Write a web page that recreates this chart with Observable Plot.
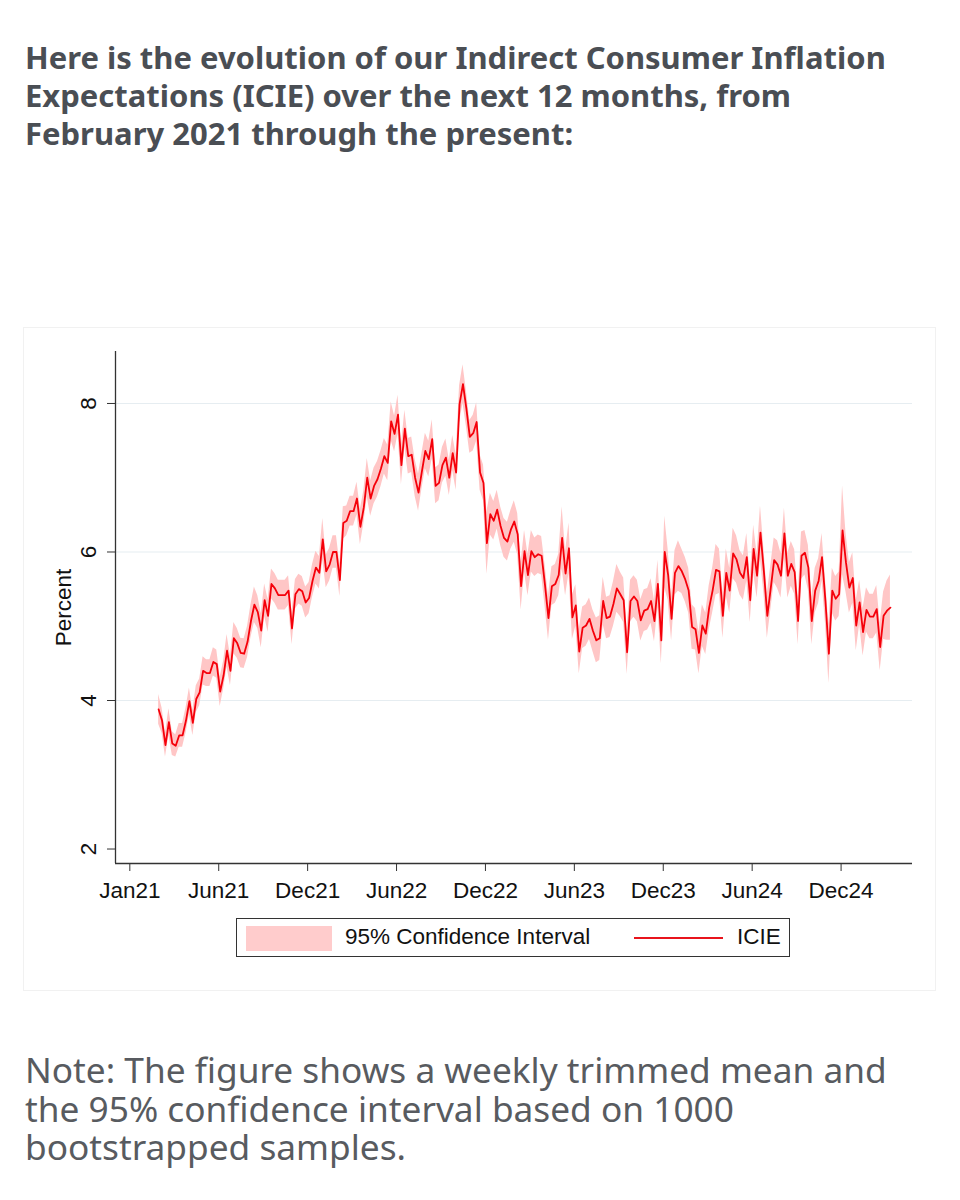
<!DOCTYPE html>
<html><head><meta charset="utf-8">
<script src="https://cdn.jsdelivr.net/npm/d3@7"></script>
<script src="https://cdn.jsdelivr.net/npm/@observablehq/plot@0.6"></script>
<style>
body{margin:0;background:#fff;width:960px;height:1200px;position:relative;overflow:hidden;}
.txt{position:absolute;left:25px;white-space:nowrap;font-family:"Noto Sans",sans-serif;}
.txt .ln{display:block;width:max-content;overflow:visible;}
#title{top:38px;font-weight:700;font-size:28px;color:#4a4e54;}
#title .ln{height:38px;line-height:38px;}
#note{top:1050px;font-weight:400;font-size:34px;color:#585b60;}
#note .ln{height:38.5px;line-height:38.5px;}
#chartbox{position:absolute;left:23px;top:327px;width:911px;height:662px;border:1px solid #f1f1f1;}
#chart{position:absolute;left:0;top:327px;}
#legend{position:absolute;left:236px;top:918px;width:552px;height:37px;border:1.5px solid #333;background:#fff;font-family:"Liberation Sans",Arial,sans-serif;font-size:22.5px;color:#111;}
#legend .sw{position:absolute;left:9px;top:7px;width:86px;height:25px;background:#ffcccc;}
#legend .l1{position:absolute;left:108px;top:5px;}
#legend .lline{position:absolute;left:397px;top:18px;width:89px;height:2px;background:#e8141c;}
#legend .l2{position:absolute;left:500px;top:5px;}
</style></head>
<body>
<div id="title" class="txt"><span class="ln">Here is the evolution of our Indirect Consumer Inflation</span><span class="ln">Expectations (ICIE) over the next 12 months, from</span><span class="ln">February 2021 through the present:</span></div>
<div id="chartbox"></div>
<div id="chart"></div>
<div id="legend"><div class="sw"></div><div class="l1">95% Confidence Interval</div><div class="lline"></div><div class="l2">ICIE</div></div>
<div id="note" class="txt"><span class="ln">Note: The figure shows a weekly trimmed mean and</span><span class="ln">the 95% confidence interval based on 1000</span><span class="ln">bootstrapped samples.</span></div>
<script>
// ---- data ----
const firstWeek = "2021-03-01";
const icie = [
3.88,3.73,3.40,3.71,3.42,3.39,3.53,3.53,3.73,3.99,
3.70,4.02,4.11,4.40,4.37,4.37,4.52,4.49,4.12,4.34,
4.67,4.40,4.84,4.77,4.64,4.63,4.79,5.07,5.29,5.19,
4.94,5.35,5.14,5.57,5.51,5.42,5.42,5.42,5.48,
4.97,5.43,5.50,5.47,5.32,5.38,5.61,5.79,5.72,6.17,
5.74,5.83,6.00,6.00,5.62,6.39,6.42,6.55,6.55,6.72,
6.34,6.60,7.00,6.72,6.89,6.98,7.12,7.29,7.20,7.76,
7.59,7.85,7.17,7.66,7.29,7.31,7.00,6.80,7.09,7.36,
7.25,7.52,6.89,6.93,7.17,7.27,7.00,7.33,7.07,7.99,
8.26,7.93,7.55,7.60,7.75,7.07,6.93,6.12,6.51,6.42,
6.57,6.35,6.19,6.14,6.30,6.41,6.24,5.54,6.01,5.69,
6.01,5.93,5.97,5.95,5.55,5.11,5.54,5.57,5.69,6.19,
5.71,6.05,5.12,5.28,4.66,4.98,5.01,5.10,4.94,4.81,
4.84,5.34,5.11,5.13,5.30,5.51,5.43,5.35,4.65,5.34,
5.40,5.34,5.08,5.21,5.23,5.34,5.07,5.57,4.81,6.00,
5.69,5.10,5.72,5.81,5.74,5.63,5.48,4.99,4.96,4.64,
5.01,4.90,5.25,5.48,5.76,5.74,5.14,5.72,5.48,5.98,
5.90,5.72,5.65,5.93,5.35,6.04,5.68,6.26,5.74,5.14,
5.51,5.89,5.83,5.68,6.25,5.68,5.84,5.73,5.07,5.95,
5.99,5.79,5.07,5.48,5.61,5.93,5.34,4.63,5.48,5.37,
5.43,6.29,5.86,5.52,5.65,5.01,5.32,4.92,5.22,5.13,
5.13,5.23,4.72,5.14,5.21,5.25];
// half-width of the 95% confidence interval
const ciHalf = [
0.20,0.17,0.16,0.18,0.16,0.15,0.16,0.16,0.17,0.18,
0.17,0.18,0.18,0.19,0.18,0.18,0.19,0.19,0.20,0.19,
0.22,0.20,0.21,0.20,0.20,0.20,0.21,0.22,0.24,0.22,
0.23,0.22,0.22,0.20,0.20,0.20,0.20,0.20,0.20,
0.22,0.20,0.20,0.20,0.21,0.21,0.22,0.22,0.22,0.28,0.22,
0.22,0.22,0.22,0.22,0.22,0.20,0.20,0.20,0.22,0.24,
0.22,0.26,0.24,0.24,0.24,0.24,0.24,0.24,0.26,0.24,
0.26,0.26,0.25,0.24,0.24,0.25,0.25,0.24,0.24,0.24,
0.26,0.24,0.24,0.24,0.25,0.24,0.24,0.24,0.25,0.26,
0.24,0.22,0.24,0.26,0.24,0.24,0.42,0.28,0.26,0.26,
0.26,0.26,0.26,0.26,0.28,0.28,0.32,0.28,0.28,0.28,
0.26,0.26,0.26,0.28,0.30,0.26,0.26,0.28,0.42,0.30,
0.34,0.30,0.28,0.30,0.28,0.28,0.28,0.28,0.30,0.30,
0.32,0.28,0.28,0.30,0.32,0.30,0.30,0.30,0.28,0.28,
0.28,0.28,0.28,0.28,0.30,0.28,0.32,0.32,0.48,0.34,
0.30,0.30,0.34,0.30,0.30,0.30,0.30,0.28,0.28,0.28,
0.28,0.30,0.30,0.34,0.30,0.30,0.32,0.30,0.34,0.32,
0.30,0.30,0.32,0.30,0.32,0.30,0.36,0.30,0.30,0.30,
0.30,0.32,0.30,0.34,0.30,0.30,0.30,0.32,0.32,0.30,
0.30,0.32,0.30,0.30,0.32,0.30,0.40,0.30,0.30,0.30,
0.60,0.40,0.34,0.34,0.34,0.30,0.32,0.30,0.30,0.30,
0.32,0.32,0.32,0.40,0.44];
const xTickLabels = ["Jan21","Jun21","Dec21","Jun22","Dec22","Jun23","Dec23","Jun24","Dec24"];
const yTicks = [2,4,6,8];
const gridTicks = [4,6,8];

// ---- build ----
const start = new Date(firstWeek + "T00:00:00Z");
const data = icie.map((v, i) => ({date: d3.utcDay.offset(start, 7 * i), v, lo: v - ciHalf[i], hi: v + ciHalf[i]}));
const origin = new Date("2021-01-01T00:00:00Z");
const tickDates = xTickLabels.map((_, i) => d3.utcDay.offset(origin, 182 * i));
const labelOf = new Map(tickDates.map((d, i) => [+d, xTickLabels[i]]));
const xDomain = [new Date(+origin - 29.3 * 864e5), new Date(+origin + 1602.2 * 864e5)];
const yDomain = [1.805, 8.70];

const chart = Plot.plot({
  width: 960, height: 663,
  marginLeft: 115, marginRight: 48, marginTop: 24, marginBottom: 127,
  style: {fontFamily: "'Liberation Sans', Arial, sans-serif", fontSize: "22.5px", color: "#111", background: "transparent"},
  x: {type: "utc", domain: xDomain},
  y: {domain: yDomain},
  marks: [
    Plot.ruleY(gridTicks, {stroke: "#e6edf1", strokeWidth: 1.2}),
    Plot.areaY(data, {x: "date", y1: "lo", y2: "hi", fill: "#ffc6c6", curve: "linear"}),
    Plot.lineY(data, {x: "date", y: "v", stroke: "#f5000a", strokeWidth: 1.8}),
    Plot.ruleX([xDomain[0]], {stroke: "#333", strokeWidth: 1.3}),
    Plot.ruleY([yDomain[0]], {stroke: "#333", strokeWidth: 1.3}),
    Plot.axisY({ticks: yTicks, tickSize: 8, tickFormat: () => "", stroke: "#333", label: null}),
    Plot.text(yTicks, {x: xDomain[0], y: d => d, text: d => String(d), dx: -27, rotate: -90, textAnchor: "middle", lineAnchor: "middle", fontSize: 22.5, fill: "#111"}),
    Plot.text(["Percent"], {x: xDomain[0], y: (yDomain[0] + yDomain[1]) / 2, text: d => d, dx: -52, rotate: -90, textAnchor: "middle", lineAnchor: "middle", fontSize: 22.5, fill: "#111"}),
    Plot.axisX({ticks: tickDates, tickSize: 8, tickPadding: 11, tickFormat: d => labelOf.get(+d), label: null, stroke: "#333", fill: "#111", fontSize: 22.5})
  ]
});
document.getElementById("chart").appendChild(chart);

// fit text blocks to the reference line widths
function fit(id, target, base) {
  const el = document.getElementById(id);
  const w = el.querySelector(".ln").getBoundingClientRect().width;
  el.style.fontSize = (base * target / w) + "px";
}
fit("title", 861, 28);
fit("note", 862, 34);
</script>
</body></html>
